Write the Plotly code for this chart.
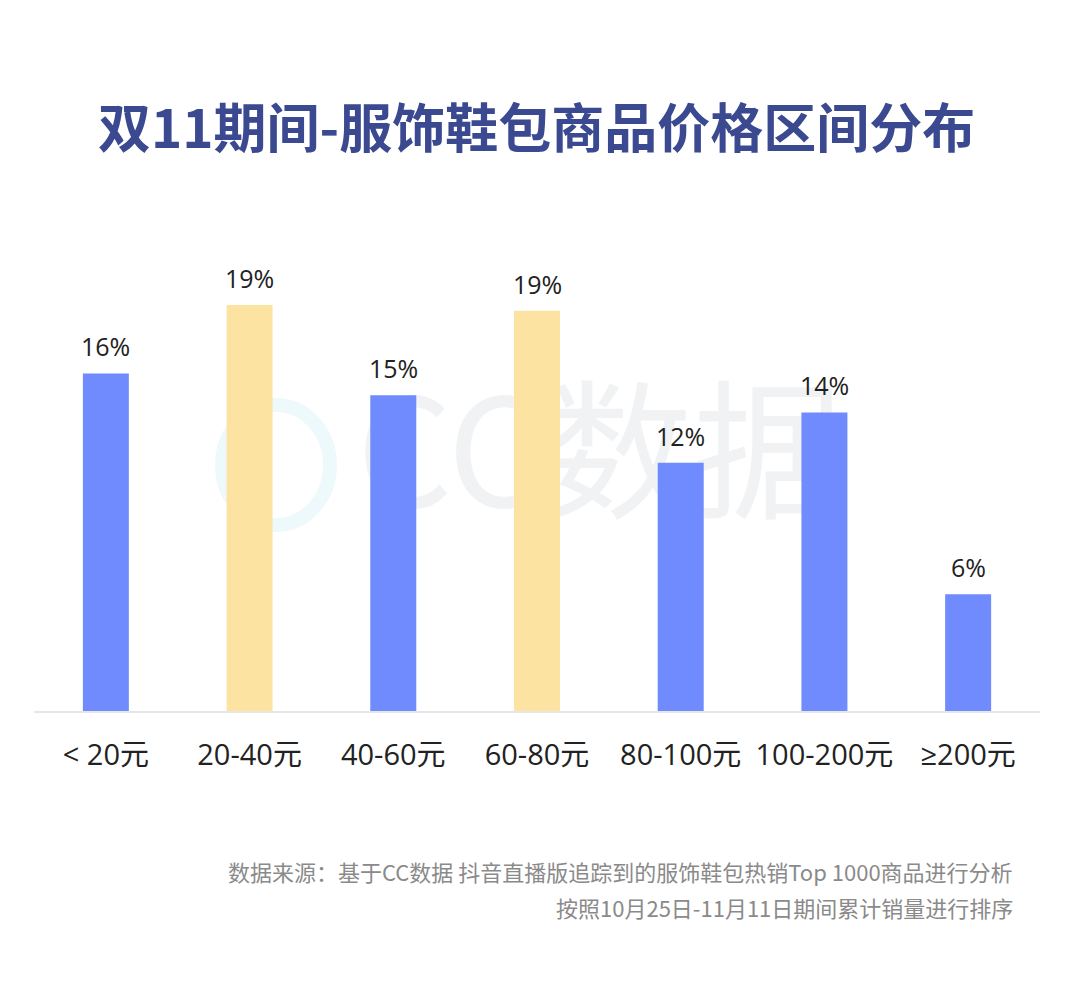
import plotly.graph_objects as go

categories = ["< 20元", "20-40元", "40-60元", "60-80元", "80-100元", "100-200元", "≥200元"]
values = [16.0, 19.24, 14.97, 18.97, 11.76, 14.15, 5.53]
labels = ["16%", "19%", "15%", "19%", "12%", "14%", "6%"]
highlight = [False, True, False, True, False, False, False]

BLUE = "#6f8bfd"
YELLOW = "#fde3a2"
FONT = "Noto Sans CJK SC"
FONT_MIX = "'Open Sans', 'DejaVu Sans', 'Noto Sans CJK SC'"

colors = [YELLOW if h else BLUE for h in highlight]

fig = go.Figure()
fig.add_trace(go.Bar(
    x=categories, y=values, marker=dict(color=colors, line=dict(width=0)),
    hoverinfo="skip", showlegend=False,
))

for c, v, t in zip(categories, values, labels):
    fig.add_annotation(x=c, y=v, text=t, showarrow=False, xref="x", yref="y",
                       yanchor="bottom", yshift=8,
                       font=dict(family=FONT_MIX, size=25, color="#222222"))

fig.update_layout(
    width=1080, height=987,
    margin=dict(l=34, r=40, t=289, b=276),
    paper_bgcolor="white", plot_bgcolor="rgba(0,0,0,0)",
    bargap=0.68,
    xaxis=dict(showgrid=False, showline=True, linecolor="#e6e6e6", linewidth=1.5,
               ticks="outside", ticklen=17, tickcolor="rgba(0,0,0,0)",
               tickfont=dict(family=FONT_MIX, size=29, color="#222222")),
    yaxis=dict(range=[0, 20], visible=False, showgrid=False, zeroline=False),
)

plot_h = 987 - 289 - 276
def ypx(py):
    return (987 - 276 - py) / plot_h
def xpx(px):
    return (px - 34) / (1080 - 34 - 40)

# title
fig.add_annotation(x=xpx(536), y=ypx(125), xref="paper", yref="paper",
                   text="<b>双11期间-服饰鞋包商品价格区间分布</b>",
                   showarrow=False, font=dict(family=FONT, size=53, color="#3b4a90"),
                   xanchor="center", yanchor="middle")

# watermark
fig.add_shape(type="rect", xref="paper", yref="paper",
              x0=xpx(320), x1=xpx(880), y0=ypx(545), y1=ypx(385),
              line=dict(width=0), fillcolor="rgba(0,0,0,0)", layer="below",
              label=dict(text="CC数据", font=dict(family=FONT, size=150, color="#f1f2f4")))
fig.add_shape(type="circle", xref="paper", yref="paper",
              x0=xpx(222), x1=xpx(330), y0=ypx(525), y1=ypx(405),
              line=dict(width=14, color="#eef9fb"), fillcolor="rgba(0,0,0,0)", layer="below")

# source lines
fig.add_annotation(x=xpx(1015), y=ypx(871), xref="paper", yref="paper",
                   text="数据来源：基于CC数据 抖音直播版追踪到的服饰鞋包热销Top 1000商品进行分析",
                   showarrow=False, xanchor="right", yanchor="middle",
                   font=dict(family=FONT, size=22, color="#8a8a8a"))
fig.add_annotation(x=xpx(1015), y=ypx(907), xref="paper", yref="paper",
                   text="按照10月25日-11月11日期间累计销量进行排序",
                   showarrow=False, xanchor="right", yanchor="middle",
                   font=dict(family=FONT, size=22, color="#8a8a8a"))

fig.write_html("out.html")
